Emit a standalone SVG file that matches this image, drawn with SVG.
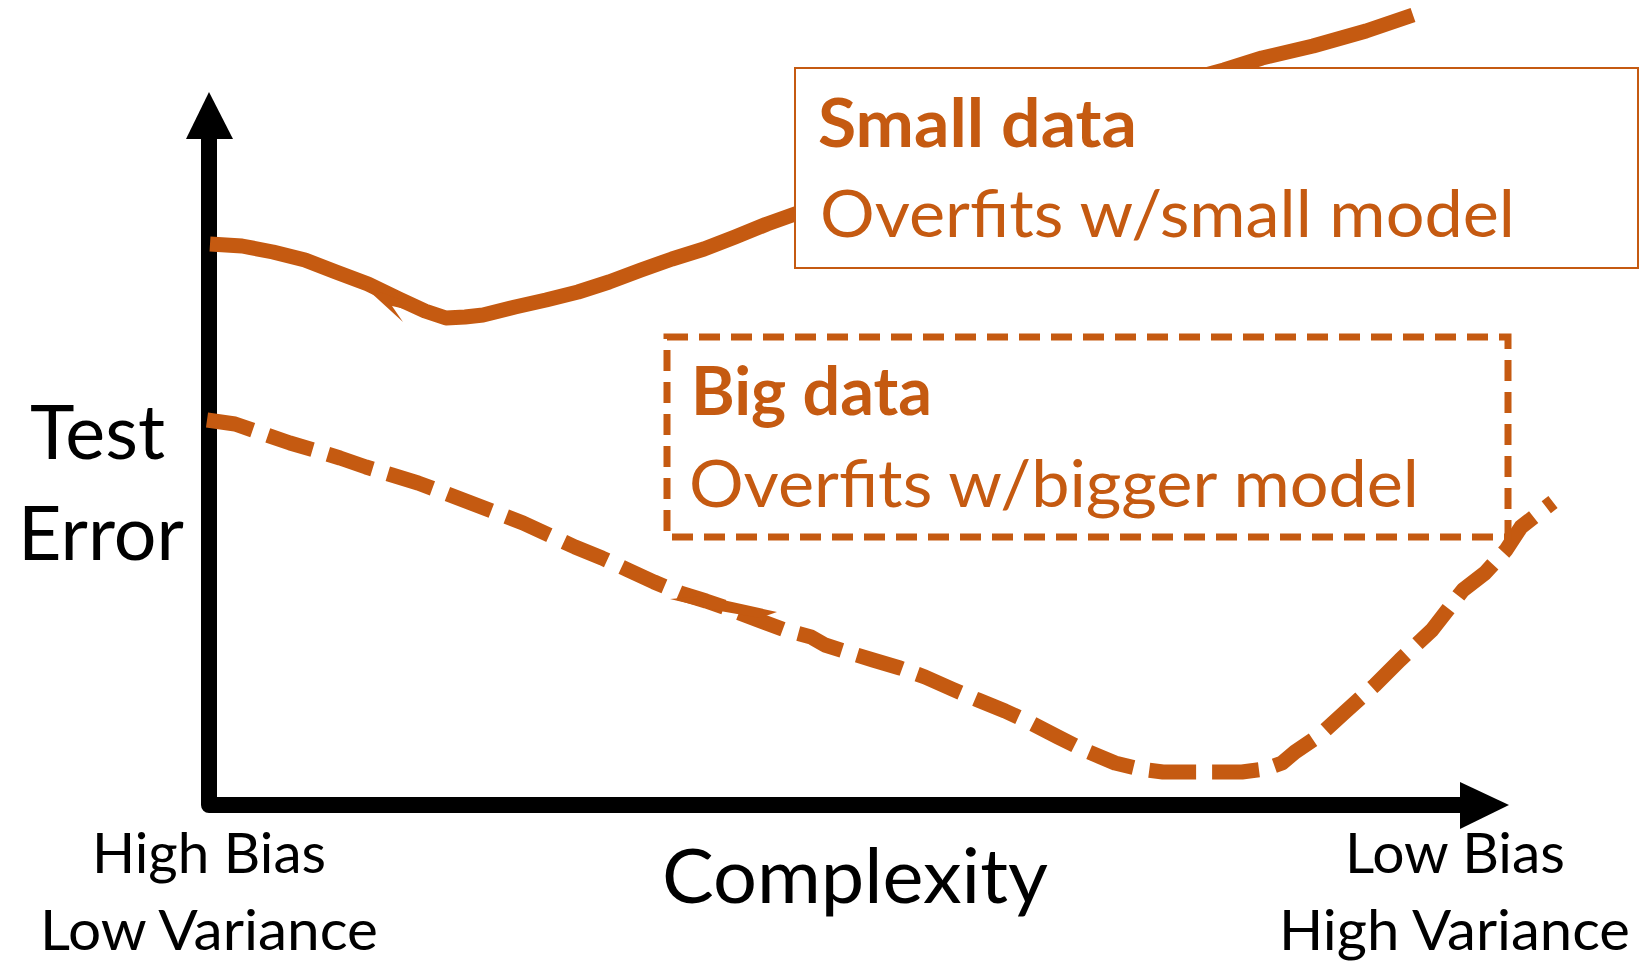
<svg xmlns="http://www.w3.org/2000/svg" width="1647" height="963" viewBox="0 0 1647 963">
  <style>
    .axis { fill: none; stroke: #000; stroke-width: 16; stroke-linejoin: round; }
    .head { fill: #000; }
    .curve { fill: none; stroke: #C55A11; stroke-width: 15; stroke-linejoin: round; stroke-linecap: butt; }
    .dashed { stroke-dasharray: 47 16; }
    .lbl { font-family: Lato, "Liberation Sans", sans-serif; fill: #000; }
    .orange { font-family: Lato, "Liberation Sans", sans-serif; fill: #C55A11; }
    .bold { font-weight: bold; }
  </style>
  <rect width="1647" height="963" fill="#fff"/>

  <!-- axes -->
  <g id="axes">
    <path class="axis" d="M209,136 V805 H1462"/>
    <polygon class="head" points="209,92 233,139 186,139"/>
    <polygon class="head" points="1509,805 1460,782 1460,829"/>
  </g>

  <!-- error curves -->
  <g id="connectors">
    <path id="small-curve" class="curve" stroke-width="14" d="M210,244 L242,246 L273,252 L305,260 L336,272 L368,284 L399,299 L425,311 L446,318 L465,317 L483,315 L515,307 L546,300 L578,292 L609,282 L641,270 L672,259 L704,249 L735,237 L767,224 L795,214 L900,178 L1000,142 L1100,108 L1180,82 L1224,70 L1262,58 L1313,46 L1366,31 L1413,15"/>
    <polygon fill="#C55A11" points="352,282 368,290 403,322 392,306 405,309 399,299"/>
    <path id="big-curve" class="curve dashed" d="M207,420 L235,424 L261,433 L290,443 L314,450 L340,458 L366,467 L392,475 L418,483 L445,493 L471,503 L497,513 L523,523 L549,535 L575,547 L602,558 L628,570 L654,582 L680,593 L706,601 L732,610 L758,620 L785,630 L811,637 L825,645 L850,653 L873,660 L900,668 L925,677 L952,689 L978,700 L1005,711 L1031,723 L1058,737 L1084,750 L1115,763 L1140,769 L1163,772 L1200,772 L1242,772 L1265,769 L1282,763 L1295,752 L1320,735 L1345,712 L1375,685 L1400,660 L1432,630 L1463,590 L1485,573 L1506,550 L1521,527 L1553,502"/>
    <polygon fill="#C55A11" points="670,599 705,596 777,612 760,618 720,611"/>
  </g>

  <!-- small data note -->
  <g id="small-data">
    <rect x="795" y="68" width="843" height="200" fill="#fff" stroke="#C55A11" stroke-width="2"/>
    <text class="orange bold" x="818" y="147" font-size="67" textLength="319" lengthAdjust="spacingAndGlyphs">Small data</text>
    <text class="orange" x="820" y="237" font-size="66" textLength="695" lengthAdjust="spacingAndGlyphs">Overfits w/small model</text>
  </g>

  <!-- big data note -->
  <g id="big-data">
    <rect x="667" y="337" width="841" height="200" fill="none" stroke="#C55A11" stroke-width="7" stroke-dasharray="21 11"/>
    <text class="orange bold" x="691" y="415" font-size="66" textLength="241" lengthAdjust="spacingAndGlyphs">Big data</text>
    <text class="orange" x="689" y="507" font-size="66" textLength="730" lengthAdjust="spacingAndGlyphs">Overfits w/bigger model</text>
  </g>

  <!-- axis labels -->
  <g id="y-label">
    <text class="lbl" x="30" y="459" font-size="75" textLength="135" lengthAdjust="spacingAndGlyphs">Test</text>
    <text class="lbl" x="18" y="560" font-size="75" textLength="166" lengthAdjust="spacingAndGlyphs">Error</text>
  </g>
  <g id="x-label">
    <text class="lbl" x="662" y="903" font-size="75" textLength="386" lengthAdjust="spacingAndGlyphs">Complexity</text>
  </g>
  <g id="left-end">
    <text class="lbl" x="92" y="873" font-size="56" textLength="234" lengthAdjust="spacingAndGlyphs">High Bias</text>
    <text class="lbl" x="40" y="950" font-size="56" textLength="338" lengthAdjust="spacingAndGlyphs">Low Variance</text>
  </g>
  <g id="right-end">
    <text class="lbl" x="1345" y="873" font-size="56" textLength="220" lengthAdjust="spacingAndGlyphs">Low Bias</text>
    <text class="lbl" x="1279" y="950" font-size="56" textLength="351" lengthAdjust="spacingAndGlyphs">High Variance</text>
  </g>
</svg>
